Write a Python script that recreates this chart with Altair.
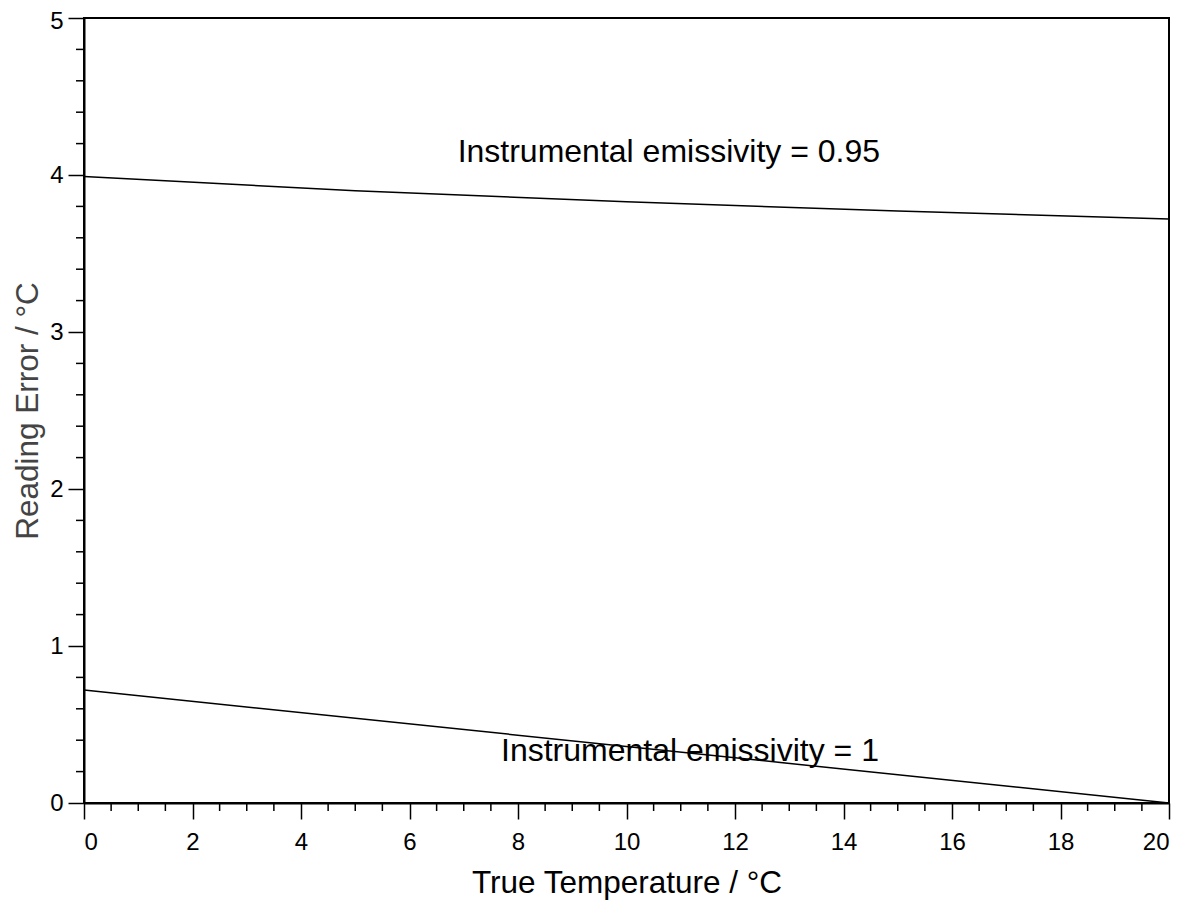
import altair as alt
import pandas as pd

# Series values
temp_095 = [0, 5, 10, 15, 20]
err_095 = [3.99, 3.90, 3.83, 3.77, 3.72]
temp_1 = [0, 20]
err_1 = [0.72, 0.0]

# Annotations
label_text = ["Instrumental emissivity = 0.95", "Instrumental emissivity = 1"]
label_x = [10.78, 11.17]
label_y = [4.085, 0.267]

# Tick positions
x_major = [0, 2, 4, 6, 8, 10, 12, 14, 16, 18, 20]
y_major = [0, 1, 2, 3, 4, 5]
x_minor = [i * 0.5 for i in range(41) if i % 4 != 0]
y_minor = [round(i * 0.2, 1) for i in range(26) if i % 5 != 0]

FONT = "Liberation Sans"
W, H = 1085, 785

lines_df = pd.DataFrame(
    {
        "T": temp_095 + temp_1,
        "E": err_095 + err_1,
        "series": ["0.95"] * len(temp_095) + ["1"] * len(temp_1),
    }
)
text_df = pd.DataFrame({"T": label_x, "E": label_y, "label": label_text})
xminor_df = pd.DataFrame({"T": x_minor})
yminor_df = pd.DataFrame({"E": y_minor})

x_enc = alt.X(
    "T:Q",
    scale=alt.Scale(domain=[0, 20], nice=False, zero=False),
    axis=alt.Axis(
        title="True Temperature / °C",
        values=x_major,
        format="d",
        labelOverlap=False,
        tickSize=16,
        tickWidth=1.5,
        tickColor="black",
        domainColor="black",
        domainWidth=2,
        grid=False,
        labelFont=FONT,
        labelFontSize=24,
        labelColor="black",
        labelPadding=11,
        titleFont=FONT,
        titleFontSize=31.5,
        titleFontWeight="normal",
        titleColor="black",
        titleY=89,
        titleBaseline="alphabetic",
    ),
)

y_enc = alt.Y(
    "E:Q",
    scale=alt.Scale(domain=[0, 5], nice=False, zero=False),
    axis=alt.Axis(
        title="Reading Error / °C",
        values=y_major,
        format="d",
        labelOverlap=False,
        labelOffset={"condition": {"test": "datum.value === 5", "value": 3}, "value": 0},
        tickSize=16,
        tickWidth=1.5,
        tickColor="black",
        domainColor="black",
        domainWidth=2,
        grid=False,
        labelFont=FONT,
        labelFontSize=24,
        labelColor="black",
        labelPadding=5,
        titleFont=FONT,
        titleFontSize=31.5,
        titleFontWeight="normal",
        titleColor="#444444",
        titleAngle=270,
        titleX=-47,
        titleY=H / 2,
        titleAlign="center",
        titleBaseline="alphabetic",
    ),
)

lines = alt.Chart(lines_df).mark_line(color="black", strokeWidth=1.5).encode(
    x=x_enc, y=y_enc, detail="series:N"
)

texts = alt.Chart(text_df).mark_text(
    font=FONT, fontSize=32, align="center", baseline="alphabetic", color="black"
).encode(x="T:Q", y="E:Q", text="label:N")

x_minor_ticks = alt.Chart(xminor_df).mark_rule(color="black", strokeWidth=1.5).encode(
    x="T:Q", y=alt.value(H), y2=alt.value(H + 8)
)

y_minor_ticks = alt.Chart(yminor_df).mark_rule(color="black", strokeWidth=1.5).encode(
    y="E:Q", x=alt.value(0), x2=alt.value(-8)
)

chart = (
    alt.layer(lines, texts, x_minor_ticks, y_minor_ticks)
    .properties(
        width=W,
        height=H,
        padding={"left": 76, "top": 10, "right": 16, "bottom": 99},
        autosize=alt.AutoSizeParams(type="none"),
        background="white",
    )
    .configure_view(stroke="black", strokeWidth=2)
)

chart.save("out.html", embed_options={"renderer": "svg", "actions": False})
